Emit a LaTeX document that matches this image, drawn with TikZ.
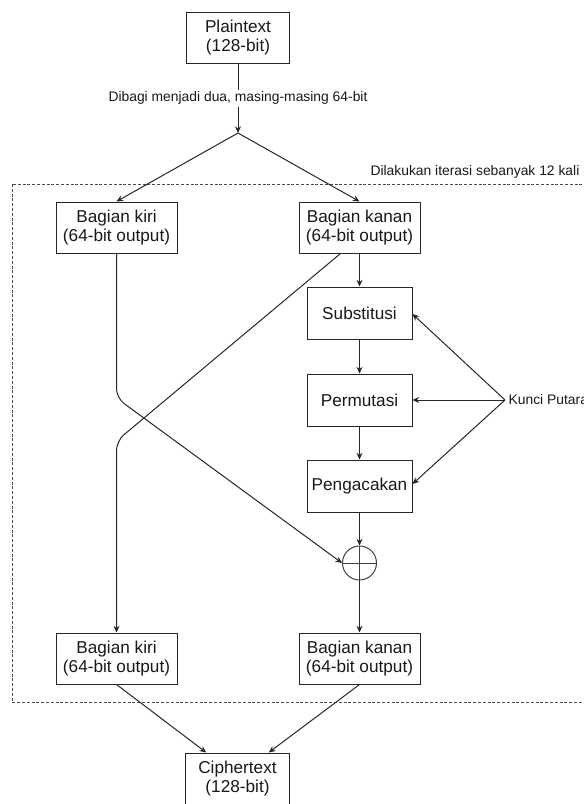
\documentclass[tikz,border=0pt]{standalone}
\usepackage{fontspec}
\setmainfont{Liberation Sans}
\usetikzlibrary{arrows.meta,calc}

\tikzset{
  box/.style={draw=black!85, line width=0.75pt, fill=white, align=center,
    inner sep=0pt, text=black!90,
    font=\fontsize{12.9pt}{14.4pt}\selectfont},
  halfbox/.style={box, minimum width=90.75pt, minimum height=38.25pt},
  stepbox/.style={box, minimum width=78.75pt, minimum height=39pt},
  endbox/.style={box, minimum width=77.5pt, minimum height=38.25pt},
  arr/.style={draw=black!85, line width=0.75pt, -{Stealth[length=5pt,width=4.5pt]}},
  ln/.style={draw=black!85, line width=0.75pt},
  smalltext/.style={font=\fontsize{10.4pt}{12pt}\selectfont, text=black!90, inner sep=1pt},
}

\begin{document}
\begin{tikzpicture}[x=0.75pt, y=-0.75pt]
\useasboundingbox (0,0) rectangle (584,804);

% iteration frame
\draw[black!70, line width=0.75pt, dash pattern=on 2.2pt off 1.4pt]
  (12,184) rectangle (600,702);
\node[smalltext, anchor=east] (iterlabel) at (581,172) {Dilakukan iterasi sebanyak 12 kali};

% blocks
\node[endbox] (pt) at (238,37.5) {Plaintext\\(128-bit)};
\coordinate (split) at (238,133);

\node[halfbox] (lk1) at (116.5,227.5) {Bagian kiri\\(64-bit output)};
\node[halfbox] (rk1) at (359.5,227.5) {Bagian kanan\\(64-bit output)};

\node[stepbox] (sub)  at (359.5,313) {Substitusi};
\node[stepbox] (perm) at (359.5,400) {Permutasi};
\node[stepbox] (peng) at (359.5,486) {Pengacakan};

\node[draw=black!75, line width=0.75pt, circle, minimum size=25.5pt, inner sep=0pt] (xor) at (359.5,563) {};
\draw[ln, draw=black!75] (xor.north) -- (xor.south);
\draw[ln, draw=black!75] (xor.west) -- (xor.east);

\node[halfbox] (lk2) at (116.5,658.5) {Bagian kiri\\(64-bit output)};
\node[halfbox] (rk2) at (359.5,658.5) {Bagian kanan\\(64-bit output)};

\node[endbox] (ct) at (237.5,778.5) {Ciphertext\\(128-bit)};

% round key source
\coordinate (kp) at (505,400);
\node[smalltext, anchor=west] (kplabel) at (507,400) {Kunci Putaran};

% splitting the plaintext
\draw[arr] (pt.south) -- node[smalltext, fill=white, inner sep=1.5pt] (splitlabel) {Dibagi menjadi dua, masing-masing 64-bit} (split);
\draw[arr] (split) -- (lk1.north);
\draw[arr] (split) -- (rk1.north);

% round function on the right half
\draw[arr] (rk1.south) -- (sub.north);
\draw[arr] (sub.south) -- (perm.north);
\draw[arr] (perm.south) -- (peng.north);
\draw[arr] (peng.south) -- (xor.north);
\draw[arr] (xor.south) -- (rk2.north);

% round keys
\draw[arr] (kp) -- ($(sub.east)+(0,1)$);
\draw[arr] (kp) -- (perm.east);
\draw[arr] (kp) -- ($(peng.east)+(0,-2)$);

% swap of the halves
\draw[arr, rounded corners=7pt] (lk1.south) -- (116.5,398) -- (xor.west);
\draw[arr, rounded corners=7pt] ($(rk1.south)+(-19,0)$) -- (116.5,441) -- (lk2.north);

% joining into the ciphertext
\draw[arr] (lk2.south) -- ($(ct.north west)!0.2!(ct.north east)$);
\draw[arr] (rk2.south) -- ($(ct.north west)!0.8!(ct.north east)$);
\end{tikzpicture}
\end{document}
